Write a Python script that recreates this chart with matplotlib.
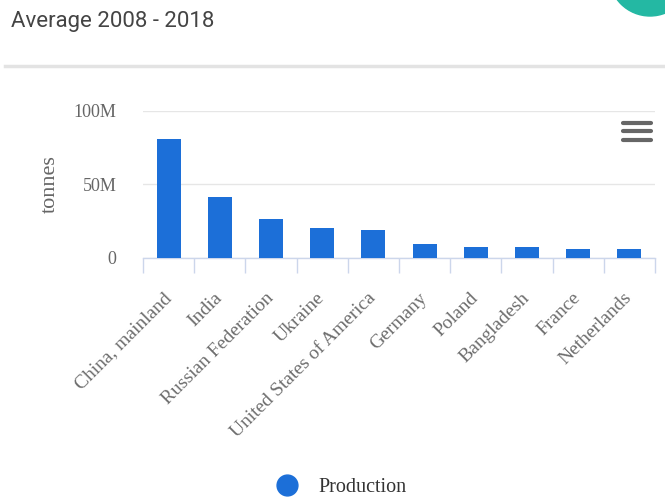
import matplotlib
matplotlib.use("Agg")
import matplotlib.pyplot as plt
from matplotlib.lines import Line2D
from matplotlib.patches import Circle
from matplotlib.ticker import FixedLocator, FuncFormatter

# Average production 2008 - 2018, tonnes
countries = ["China, mainland", "India", "Russian Federation", "Ukraine",
             "United States of America", "Germany", "Poland", "Bangladesh",
             "France", "Netherlands"]
production = [80.5e6, 41.5e6, 26.1e6, 20.0e6, 18.8e6, 9.3e6, 7.3e6, 7.3e6, 5.6e6, 5.6e6]
y_ticks = [0, 50e6, 100e6]
y_tick_labels = ["0", "50M", "100M"]

W, H = 665, 500
fig = plt.figure(figsize=(W / 100, H / 100), dpi=100)
fig.patch.set_facecolor("white")

# axes box in pixel terms -> figure fractions
left, right, top, bottom = 143, 655, 110.7, 257.7
ax = fig.add_axes([left / W, 1 - bottom / H, (right - left) / W, (bottom - top) / H])

serif = "Liberation Serif"
bar_color = "#1c6fd8"

x = range(len(countries))
ax.bar(x, production, width=0.47, color=bar_color, zorder=3)

ax.set_xlim(-0.5, len(countries) - 0.5)
ax.set_ylim(0, 100e6)
ax.yaxis.set_major_locator(FixedLocator(y_ticks))
ax.yaxis.set_major_formatter(FuncFormatter(lambda v, p: y_tick_labels[y_ticks.index(v)] if v in y_ticks else ""))
ax.grid(axis="y", color="#e6e6e6", linewidth=1, zorder=0)
ax.set_axisbelow(True)

for s in ["top", "right", "left"]:
    ax.spines[s].set_visible(False)
ax.spines["bottom"].set_color("#ccd6eb")
ax.spines["bottom"].set_linewidth(1)

ax.tick_params(axis="y", length=0, pad=19, labelsize=13, labelcolor="#666666")
for t in ax.get_yticklabels():
    t.set_fontfamily(serif)

# category labels at centres, tick marks between categories
ax.set_xticks(list(x))
ax.set_xticklabels(countries, rotation=45, ha="right", va="center",
                   rotation_mode="anchor", fontfamily=serif, fontsize=14, color="#6e6e6e")
ax.tick_params(axis="x", which="major", length=0, pad=27)
ax.set_xticks([i - 0.5 for i in range(len(countries) + 1)], minor=True)
ax.tick_params(axis="x", which="minor", length=11, color="#ccd6eb", width=1)

ax.set_ylabel("tonnes", fontfamily=serif, fontsize=16, color="#666666", labelpad=10)

# header
fig.text(11 / W, 1 - 27 / H, "Average 2008 - 2018", fontfamily="Roboto", fontsize=16,
         color="#444444", ha="left", va="baseline")
fig.add_artist(Line2D([5 / W, 1], [1 - 66 / H, 1 - 66 / H], color="#e3e3e3", linewidth=2.5))
fig.add_artist(Circle((6.5, 5.25), 0.41, color="#24b8a3",
                      transform=fig.dpi_scale_trans, clip_on=False))

# menu icon
for yy in [122.7, 131, 139.5]:
    fig.add_artist(Line2D([623 / W, 651 / W], [1 - yy / H, 1 - yy / H], color="#666666",
                          linewidth=3, solid_capstyle="round"))

# legend
fig.add_artist(Line2D([287 / W], [1 - 485 / H], marker="o", markersize=15,
                      color=bar_color, linestyle="none"))
fig.text(318 / W, 1 - 487 / H, "Production", fontfamily=serif, fontsize=14.5,
         color="#333333", ha="left", va="center")

fig.savefig("out.png", dpi=100)
